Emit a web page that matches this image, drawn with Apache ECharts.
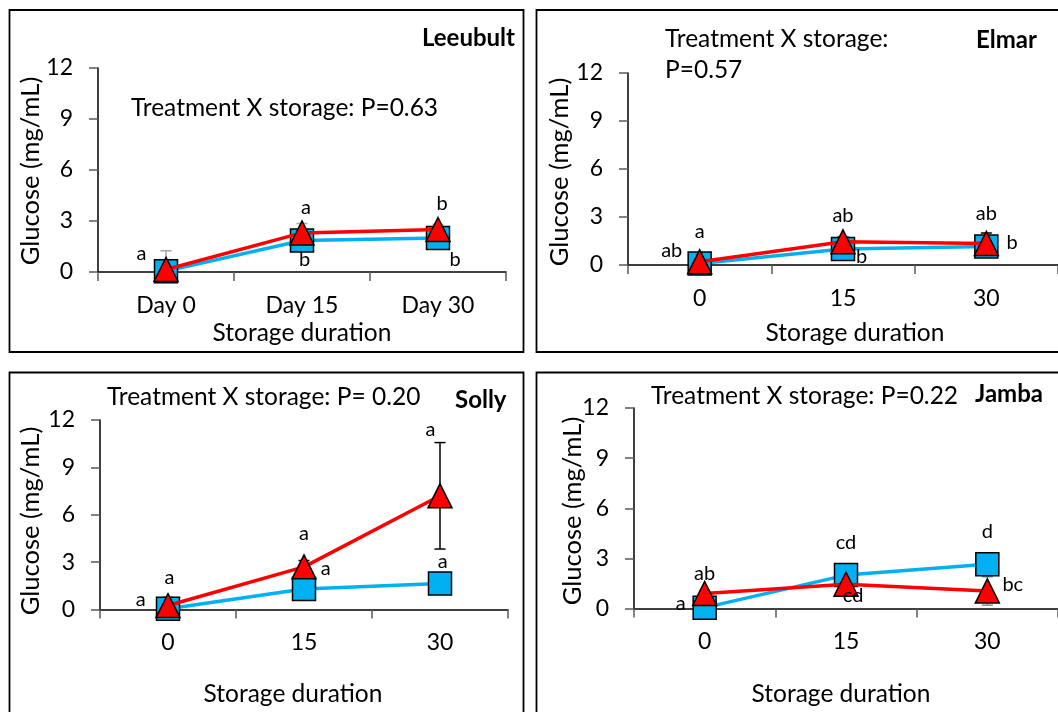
<!DOCTYPE html>
<html>
<head>
<meta charset="utf-8">
<title>Glucose during storage</title>
<script src="https://cdn.jsdelivr.net/npm/echarts@6/dist/echarts.min.js"></script>
<style>
  html, body { margin: 0; padding: 0; background: #fff; }
  #chart { width: 1058px; height: 712px; }
</style>
</head>
<body>
<div id="chart"></div>
<script>
// Storage days on the x axis
const dayLabels = ['Day 0', 'Day 15', 'Day 30'];
const dayNumbers = ['0', '15', '30'];
// Glucose axis ticks (mg/mL)
const glucoseTicks = [0, 3, 6, 9, 12];

// Leeubult: means and standard errors
const leeubultUntreated = [0.05, 1.85, 2.0];
const leeubultUntreatedErr = [1.2, 0.3, 0.3];
const leeubultTreated = [0.15, 2.3, 2.5];
const leeubultTreatedErr = [0.1, 0.55, 0.3];
// [day position, glucose level, letter]
const leeubultLetters = [[-0.18, 1.1, 'a'], [1.03, 3.8, 'a'], [1.02, 0.75, 'b'], [2.03, 4.04, 'b'], [2.125, 0.75, 'b']];

// Elmar
const elmarUntreated = [0.1, 1.0, 1.15];
const elmarUntreatedErr = [0.1, 0.2, 0.2];
const elmarTreated = [0.2, 1.45, 1.35];
const elmarTreatedErr = [0.1, 0.3, 0.65];
const elmarLetters = [[-0.195, 0.875, 'ab'], [0, 2.12, 'a'], [1.0, 3.06, 'ab'], [1.13, 0.52, 'b'], [2.0, 3.19, 'ab'], [2.18, 1.39, 'b']];

// Solly
const sollyUntreated = [0.05, 1.3, 1.65];
const sollyUntreatedErr = [0.75, 0.2, 0.2];
const sollyTreated = [0.25, 2.7, 7.2];
const sollyTreatedErr = [0.2, 0.4, 3.37];
const sollyLetters = [[-0.2, 0.65, 'a'], [0.01, 2.04, 'a'], [1.0, 4.83, 'a'], [1.16, 2.6, 'a'], [1.93, 11.37, 'a'], [2.02, 3.03, 'a']];

// Jamba
const jambaUntreated = [0.05, 2.0, 2.65];
const jambaUntreatedErr = [0.55, 0.2, 0.3];
const jambaTreated = [0.9, 1.45, 1.05];
const jambaTreatedErr = [0.2, 0.3, 0.85];
const jambaLetters = [[-0.17, 0.31, 'a'], [0.0, 2.1, 'ab'], [1.0, 3.96, 'cd'], [1.05, 0.75, 'cd'], [2.0, 4.6, 'd'], [2.18, 1.41, 'bc']];

const FONT = 'Lato, "Open Sans", sans-serif';
const BLUE = '#00B0F0';
const RED = '#FF0000';
const GREY_ERR = '#A6A6A6';
const BLACK_ERR = '#000000';
const TEXT_SIZE = 24.5;

const panels = [
  {
    name: 'Leeubult', categories: dayLabels,
    untreated: leeubultUntreated, untreatedErr: leeubultUntreatedErr,
    treated: leeubultTreated, treatedErr: leeubultTreatedErr,
    letters: leeubultLetters,
    grid: { left: 98, top: 68, width: 408, height: 204 },
    errColors: [GREY_ERR, GREY_ERR]
  },
  {
    name: 'Elmar', categories: dayNumbers,
    untreated: elmarUntreated, untreatedErr: elmarUntreatedErr,
    treated: elmarTreated, treatedErr: elmarTreatedErr,
    letters: elmarLetters,
    grid: { left: 628, top: 73, width: 435, height: 192 },
    errColors: [BLACK_ERR, BLACK_ERR]
  },
  {
    name: 'Solly', categories: dayNumbers,
    untreated: sollyUntreated, untreatedErr: sollyUntreatedErr,
    treated: sollyTreated, treatedErr: sollyTreatedErr,
    letters: sollyLetters,
    grid: { left: 100, top: 420, width: 408, height: 189.5 },
    errColors: [GREY_ERR, BLACK_ERR]
  },
  {
    name: 'Jamba', categories: dayNumbers,
    untreated: jambaUntreated, untreatedErr: jambaUntreatedErr,
    treated: jambaTreated, treatedErr: jambaTreatedErr,
    letters: jambaLetters,
    grid: { left: 634, top: 408, width: 427.5, height: 200.5 },
    errColors: ['#8C8C8C', '#8C8C8C']
  }
];

// Vertical error bar with caps, clamped at the bottom of the glucose axis
function renderErrorBar(params, api) {
  const cat = api.value(0);
  const mean = api.value(1);
  const err = api.value(2);
  const floor = glucoseTicks[0];
  const lowVal = Math.max(mean - err, floor);
  const hi = api.coord([cat, mean + err]);
  const lo = api.coord([cat, lowVal]);
  const cap = 5.5;
  const style = { stroke: api.visual('color'), lineWidth: 1.5 };
  const children = [
    { type: 'line', shape: { x1: hi[0], y1: hi[1], x2: lo[0], y2: lo[1] }, style },
    { type: 'line', shape: { x1: hi[0] - cap, y1: hi[1], x2: hi[0] + cap, y2: hi[1] }, style }
  ];
  if (mean - err > floor) {
    children.push({ type: 'line', shape: { x1: lo[0] - cap, y1: lo[1], x2: lo[0] + cap, y2: lo[1] }, style });
  }
  return { type: 'group', children };
}

const grids = [], xAxes = [], yAxes = [], series = [];
const axisTextStyle = { color: '#000', fontFamily: FONT, fontSize: 23 };

panels.forEach((p, i) => {
  grids.push(Object.assign({ containLabel: false }, p.grid));
  xAxes.push({
    type: 'category', gridIndex: i, data: p.categories, boundaryGap: true,
    axisLine: { onZero: false, lineStyle: { color: '#000', width: 1.5 } },
    axisTick: { show: true, length: 9, interval: 0, lineStyle: { color: '#595959', width: 1.5 } },
    axisLabel: Object.assign({ margin: 22, interval: 0 }, axisTextStyle),
    splitLine: { show: false }
  });
  yAxes.push({
    type: 'value', gridIndex: i,
    min: glucoseTicks[0], max: glucoseTicks[glucoseTicks.length - 1],
    interval: glucoseTicks[1] - glucoseTicks[0],
    axisLine: { show: true, onZero: false, lineStyle: { color: '#000', width: 1.5 } },
    axisTick: { show: true, length: 9, lineStyle: { color: '#595959', width: 1.5 } },
    axisLabel: Object.assign({ margin: 25 }, axisTextStyle),
    splitLine: { show: false }
  });
});

// Hidden value axes used to place the significance letters between days
panels.forEach((p, i) => {
  xAxes.push({ type: 'value', gridIndex: i, min: -0.5, max: 2.5, show: false });
});

panels.forEach((p, i) => {
  series.push({
    type: 'custom', xAxisIndex: i, yAxisIndex: i, z: 1,
    renderItem: renderErrorBar,
    itemStyle: { color: p.errColors[0] },
    encode: { x: 0, y: 1 },
    data: p.untreated.map((v, k) => [k, v, p.untreatedErr[k]])
  });
  series.push({
    type: 'custom', xAxisIndex: i, yAxisIndex: i, z: 1,
    renderItem: renderErrorBar,
    itemStyle: { color: p.errColors[1] },
    encode: { x: 0, y: 1 },
    data: p.treated.map((v, k) => [k, v, p.treatedErr[k]])
  });
  series.push({
    type: 'line', xAxisIndex: i, yAxisIndex: i, z: 2,
    data: p.untreated,
    symbol: 'rect', symbolSize: 23,
    lineStyle: { color: BLUE, width: 3.5 },
    itemStyle: { color: BLUE, borderColor: '#000', borderWidth: 1.5 }
  });
  series.push({
    type: 'line', xAxisIndex: i, yAxisIndex: i, z: 3,
    data: p.treated,
    symbol: 'triangle', symbolSize: 24,
    lineStyle: { color: RED, width: 3.5 },
    itemStyle: { color: RED, borderColor: '#000', borderWidth: 1.5 }
  });
  series.push({
    type: 'scatter', xAxisIndex: panels.length + i, yAxisIndex: i, z: 4,
    symbolSize: 1, itemStyle: { color: 'transparent', opacity: 1 },
    data: p.letters.map(l => [l[0], l[1], l[2]]),
    label: {
      show: true, position: 'inside', color: '#000', fontFamily: FONT, fontSize: 20,
      formatter: q => q.value[2]
    }
  });
});

function txt(text, x, y, opts) {
  return {
    type: 'text', x, y, z: 10,
    rotation: (opts && opts.rotation) || 0,
    style: {
      text, fill: '#000',
      font: ((opts && opts.bold) ? 'bold ' : '') + ((opts && opts.size) || TEXT_SIZE) + 'px ' + FONT,
      align: (opts && opts.align) || 'left',
      verticalAlign: 'middle'
    }
  };
}

function frame(x, y, w, h) {
  return {
    type: 'rect', z: 0,
    shape: { x, y, width: w, height: h },
    style: { fill: 'none', stroke: '#000', lineWidth: 1.8 }
  };
}

const graphics = [
  frame(9.5, 10, 514, 342),
  frame(536.5, 10, 540, 342),
  frame(9.5, 372.5, 514, 360),
  frame(536.5, 372.5, 540, 360),

  txt('Leeubult', 515, 38, { bold: true, align: 'right', size: 24 }),
  txt('Treatment X storage: P=0.63', 131, 108),
  txt('Glucose (mg/mL)', 31, 171, { rotation: Math.PI / 2, align: 'center', size: 25.5 }),
  txt('Storage duration', 302, 333, { align: 'center' }),

  txt('Elmar', 976, 40, { bold: true, size: 24 }),
  txt('Treatment X storage:', 665, 39),
  txt('P=0.57', 665, 70),
  txt('Glucose (mg/mL)', 560, 172, { rotation: Math.PI / 2, align: 'center', size: 25.5 }),
  txt('Storage duration', 855, 333, { align: 'center' }),

  txt('Solly', 455, 400, { bold: true, size: 24 }),
  txt('Treatment X storage: P= 0.20', 107, 397),
  txt('Glucose (mg/mL)', 31, 521, { rotation: Math.PI / 2, align: 'center', size: 25.5 }),
  txt('Storage duration', 293, 694, { align: 'center' }),

  txt('Jamba', 975, 394, { bold: true, size: 24 }),
  txt('Treatment X storage: P=0.22', 651, 396),
  txt('Glucose (mg/mL)', 573, 511, { rotation: Math.PI / 2, align: 'center', size: 25.5 }),
  txt('Storage duration', 841, 694, { align: 'center' })
];

const chart = echarts.init(document.getElementById('chart'), null, { renderer: 'canvas' });
chart.setOption({
  animation: false,
  backgroundColor: '#fff',
  grid: grids,
  xAxis: xAxes,
  yAxis: yAxes,
  series: series,
  graphic: graphics
});
</script>
</body>
</html>
